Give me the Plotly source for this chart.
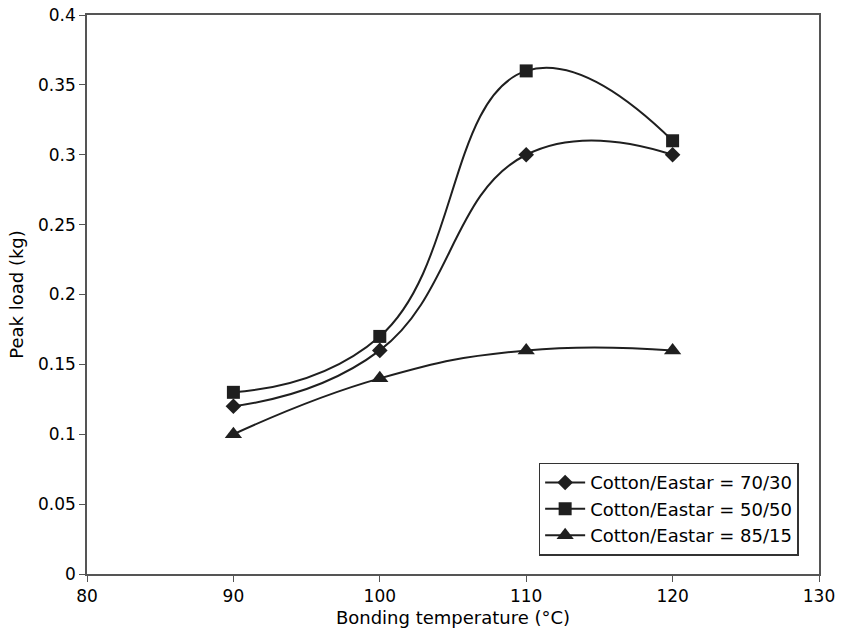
import plotly.graph_objects as go

temps = [90, 100, 110, 120]
s7030 = [0.12, 0.16, 0.30, 0.30]
s5050 = [0.13, 0.17, 0.36, 0.31]
s8515 = [0.10, 0.14, 0.16, 0.16]
names = ["Cotton/Eastar = 70/30", "Cotton/Eastar = 50/50", "Cotton/Eastar = 85/15"]
symbols = ["diamond", "square", "triangle-up"]
sizes = [12, 13, 15]

fig = go.Figure()
for ys, nm, sym, sz in zip([s7030, s5050, s8515], names, symbols, sizes):
    fig.add_trace(go.Scatter(
        x=temps, y=ys, name=nm, mode="lines+markers",
        line=dict(color="#1f1f1f", width=2, shape="spline", smoothing=1.3),
        marker=dict(symbol=sym, size=sz, color="#1f1f1f"),
    ))

font = "DejaVu Sans, Arial, sans-serif"
fig.update_layout(
    width=841, height=634,
    margin=dict(l=87, r=22, t=15, b=60),
    paper_bgcolor="white", plot_bgcolor="white",
    font=dict(family=font, size=17, color="black"),
    showlegend=True,
    legend=dict(x=0.617, y=0.199, xanchor="left", yanchor="top",
                bordercolor="#333", borderwidth=1.5, bgcolor="white",
                font=dict(size=18), tracegroupgap=0, itemwidth=40),
    xaxis=dict(range=[80, 130], dtick=10, tick0=80, showgrid=False, zeroline=False,
               showline=True, linecolor="#555", linewidth=1.5, mirror=True,
               ticks="outside", ticklen=6, tickcolor="#555", automargin=False,
               title=dict(text="Bonding temperature (°C)", font=dict(size=18), standoff=6)),
    yaxis=dict(range=[0, 0.4], dtick=0.05, tick0=0, showgrid=False, zeroline=False,
               showline=True, linecolor="#555", linewidth=1.5, mirror=True,
               ticks="outside", ticklen=6, tickcolor="#555", automargin=False,
               title=dict(text="Peak load (kg)", font=dict(size=18), standoff=10)),
)
fig.write_html("out.html")
